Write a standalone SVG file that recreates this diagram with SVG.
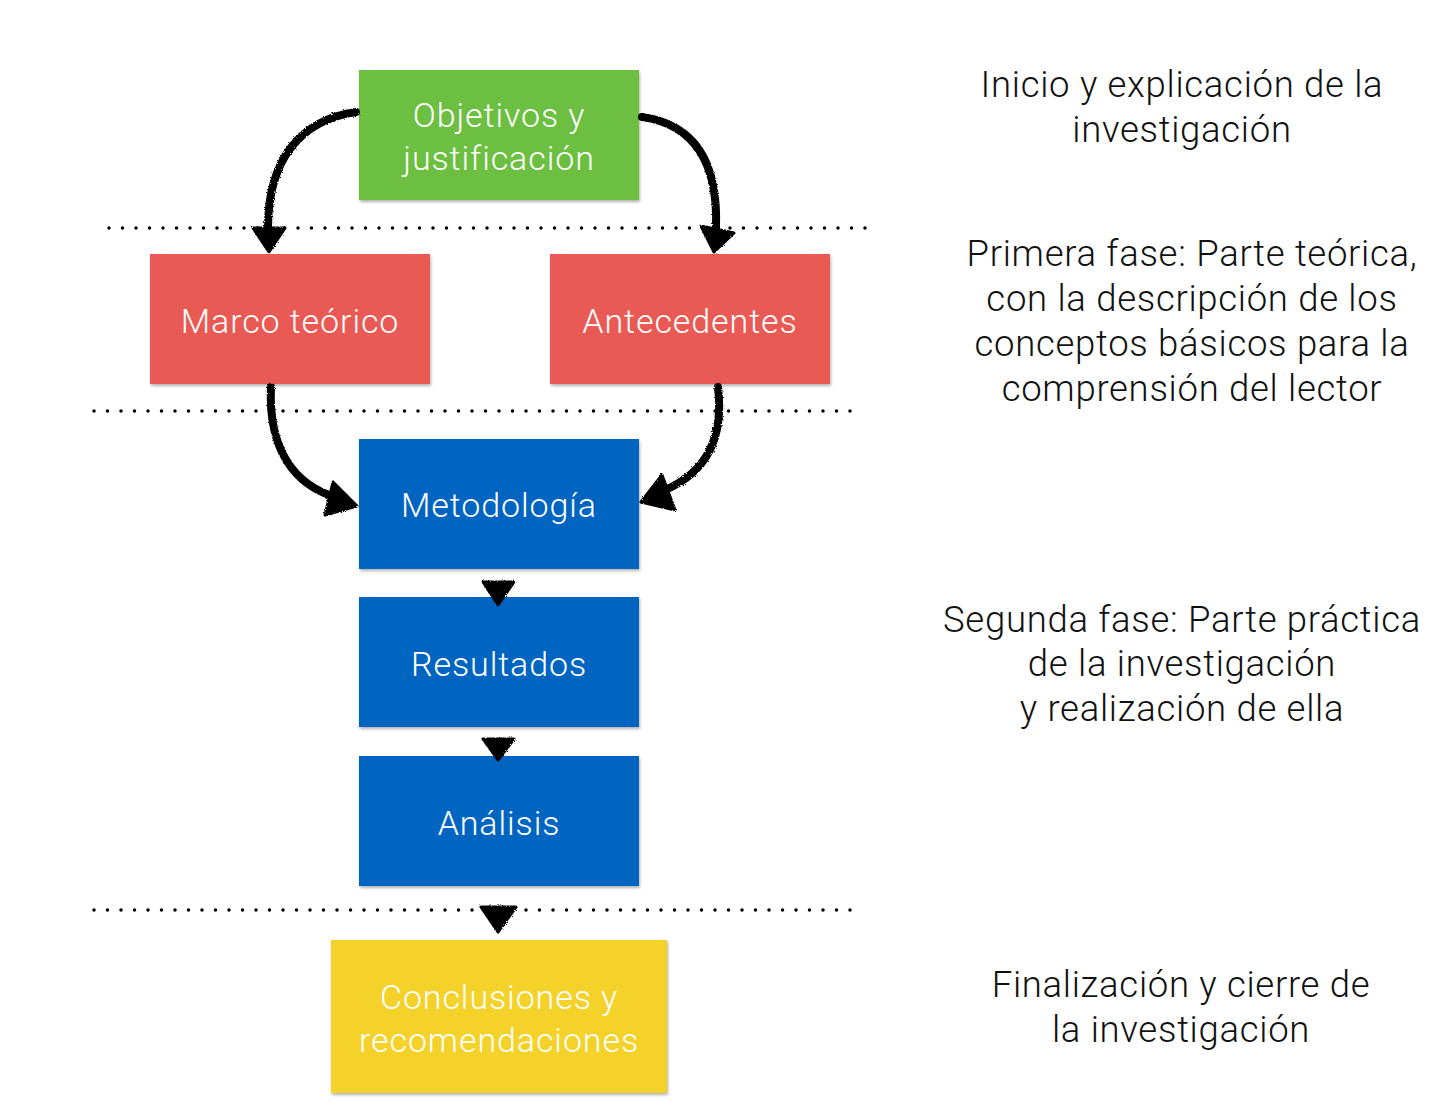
<svg xmlns="http://www.w3.org/2000/svg" width="1442" height="1116" viewBox="0 0 1442 1116">
<style>
.box text{font-family:"Roboto","Liberation Sans",sans-serif;font-weight:300;font-size:34px;letter-spacing:0.9px;fill:#fff;text-anchor:middle}
.note{font-family:"Roboto","Liberation Sans",sans-serif;font-weight:300;font-size:36.5px;letter-spacing:0.7px;fill:#111;text-anchor:middle}
.dots{stroke:#000;stroke-width:3.5;stroke-linecap:round;stroke-dasharray:0 13.5;fill:none}
.arr{stroke:#000;stroke-width:8;fill:none;stroke-linecap:round;filter:url(#rough)}
.head{fill:#000;stroke:#000;stroke-width:3;stroke-linejoin:round;filter:url(#rough)}
</style>
<defs>
<filter id="sh" x="-5%" y="-5%" width="112%" height="115%">
<feDropShadow dx="1" dy="2" stdDeviation="1.5" flood-color="#000" flood-opacity="0.3"/>
</filter>
<filter id="rough" x="-20%" y="-20%" width="140%" height="140%">
<feTurbulence type="fractalNoise" baseFrequency="0.9" numOctaves="2" result="n"/>
<feDisplacementMap in="SourceGraphic" in2="n" scale="3"/>
</filter>
</defs>
<rect width="1442" height="1116" fill="#fff"/>
<g id="separators">
<line class="dots" x1="109" y1="228" x2="866" y2="228"/>
<line class="dots" x1="94" y1="411" x2="851" y2="411"/>
<line class="dots" x1="94" y1="910" x2="851" y2="910"/>
</g>
<g id="objetivos" class="box">
<rect x="359" y="70" width="280" height="130" fill="#6cbf40" filter="url(#sh)"/>
<text x="499" y="127">Objetivos y</text>
<text x="499" y="170">justificación</text>
</g>
<g id="marco" class="box">
<rect x="150" y="254" width="280" height="130" fill="#ea5a55" filter="url(#sh)"/>
<text x="290" y="333">Marco teórico</text>
</g>
<g id="antecedentes" class="box">
<rect x="550" y="254" width="280" height="130" fill="#ea5a55" filter="url(#sh)"/>
<text x="690" y="333">Antecedentes</text>
</g>
<g id="metodologia" class="box">
<rect x="359" y="439" width="280" height="130" fill="#0565c1" filter="url(#sh)"/>
<text x="499" y="517">Metodología</text>
</g>
<g id="resultados" class="box">
<rect x="359" y="597" width="280" height="130" fill="#0565c1" filter="url(#sh)"/>
<text x="499" y="676">Resultados</text>
</g>
<g id="analisis" class="box">
<rect x="359" y="756" width="280" height="130" fill="#0565c1" filter="url(#sh)"/>
<text x="499" y="835">Análisis</text>
</g>
<g id="conclusiones" class="box">
<rect x="331" y="940" width="336" height="153" fill="#f4d22a" filter="url(#sh)"/>
<text x="499" y="1009">Conclusiones y</text>
<text x="499" y="1052">recomendaciones</text>
</g>
<g id="connectors">
<path class="arr" d="M356,112 C300,120 268,160 268,228"/>
<path class="head" d="M253,228 L285,228 L269,252 Z"/>
<path class="arr" d="M642,117 C700,125 718,170 716,228"/>
<path class="head" d="M701,226 L734,233 L714,252 Z"/>
<path class="arr" d="M271,387 C268,450 295,485 335,497"/>
<path class="head" d="M333,482 L357,506 L325,515 Z"/>
<path class="arr" d="M718,387 C725,445 700,475 665,490"/>
<path class="head" d="M662,475 L641,502 L675,510 Z"/>
<path class="arr" d="M498,568 L498,585"/>
<path class="head" d="M483,582 L514,582 L498,605 Z"/>
<path class="arr" d="M498,726 L498,742"/>
<path class="head" d="M483,739 L514,739 L498,760 Z"/>
<path class="arr" d="M498,885 L498,910"/>
<path class="head" d="M481,907 L516,907 L498,932 Z"/>
</g>
<g id="notes">
<text class="note" x="1182" y="97">Inicio y explicación de la</text>
<text class="note" x="1182" y="142">investigación</text>
<text class="note" x="1192" y="266">Primera fase: Parte teórica,</text>
<text class="note" x="1192" y="311">con la descripción de los</text>
<text class="note" x="1192" y="356">conceptos básicos para la</text>
<text class="note" x="1192" y="401">comprensión del lector</text>
<text class="note" x="1182" y="632">Segunda fase: Parte práctica</text>
<text class="note" x="1182" y="676">de la investigación</text>
<text class="note" x="1182" y="721">y realización de ella</text>
<text class="note" x="1181" y="997">Finalización y cierre de</text>
<text class="note" x="1181" y="1042">la investigación</text>
</g>
</svg>
